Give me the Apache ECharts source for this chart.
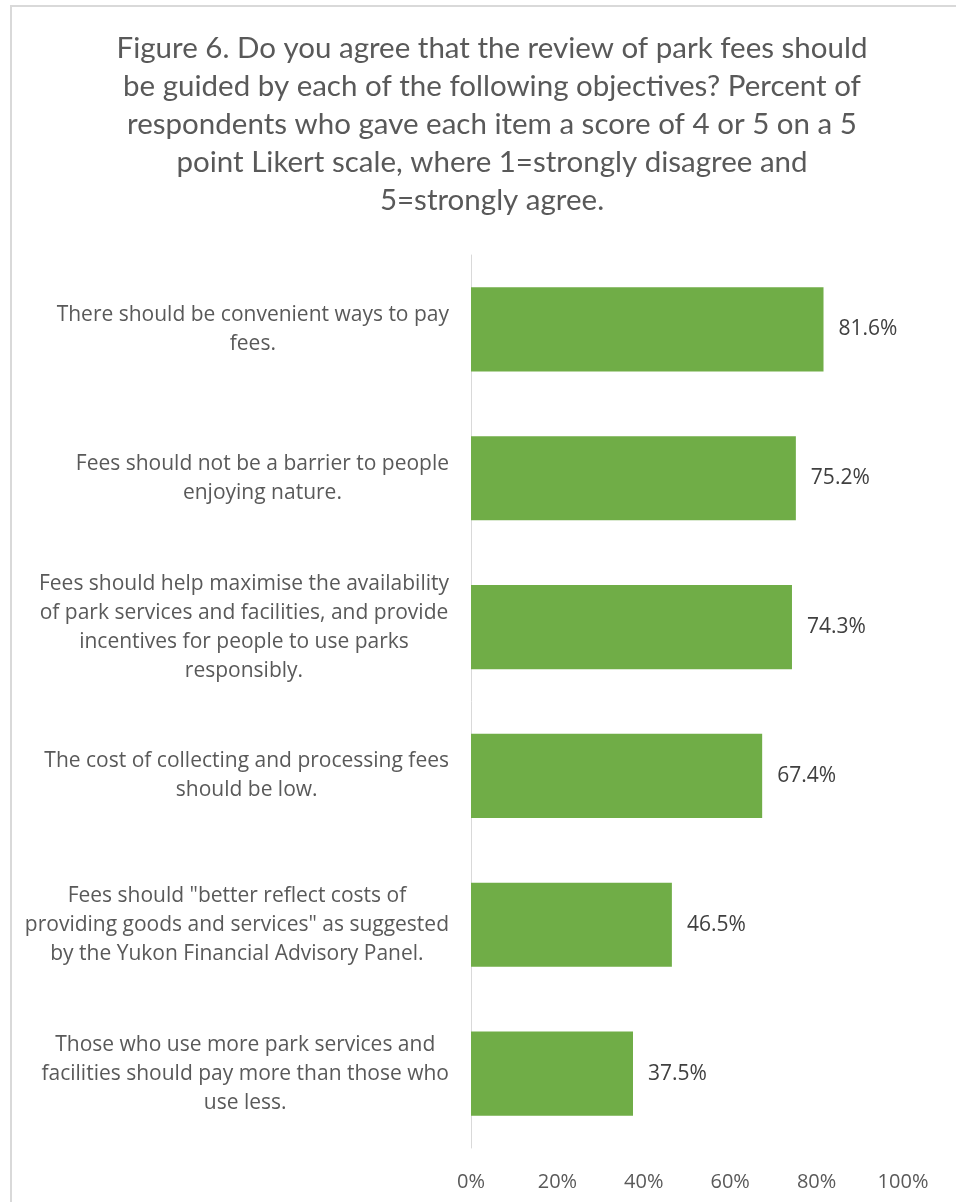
<!DOCTYPE html>
<html>
<head>
<meta charset="utf-8">
<style>
  html, body { margin: 0; padding: 0; background: #fff; }
  #chart { width: 956px; height: 1202px; }
</style>
<script src="https://cdn.jsdelivr.net/npm/echarts@6/dist/echarts.min.js"></script>
</head>
<body>
<div id="chart"></div>
<script>
// Survey objectives, listed top to bottom
const categories = [
  'There should be convenient ways to pay\nfees.',
  'Fees should not be a barrier to people\nenjoying nature.',
  'Fees should help maximise the availability\nof park services and facilities, and provide\nincentives for people to use parks\nresponsibly.',
  'The cost of collecting and processing fees\nshould be low.',
  'Fees should "better reflect costs of\nproviding goods and services" as suggested\nby the Yukon Financial Advisory Panel.',
  'Those who use more park services and\nfacilities should pay more than those who\nuse less.'
];

// Percent of respondents scoring 4 or 5
const agreePercent = [81.6, 75.2, 74.3, 67.4, 46.5, 37.5];

const titleText = 'Figure 6. Do you agree that the review of park fees should\n' +
  'be guided by each of the following objectives? Percent of\n' +
  'respondents who gave each item a score of 4 or 5 on a 5\n' +
  'point Likert scale, where 1=strongly disagree and\n' +
  '5=strongly agree.';

const chart = echarts.init(document.getElementById('chart'), null, { renderer: 'canvas' });

chart.setOption({
  backgroundColor: '#ffffff',
  animation: false,
  title: {
    text: titleText,
    left: 487,
    top: 24,
    textAlign: 'center',
    textStyle: {
      fontFamily: 'Lato',
      fontWeight: 'normal',
      fontSize: 29.5,
      lineHeight: 38,
      color: '#595959'
    }
  },
  graphic: [{
    type: 'rect',
    silent: true,
    shape: { x: 11, y: 6, width: 1000, height: 1300 },
    style: { fill: 'none', stroke: '#d9d9d9', lineWidth: 2 }
  }],
  grid: { left: 471, right: 53, top: 255, bottom: 54, containLabel: false },
  xAxis: {
    type: 'value',
    min: 0,
    max: 100,
    interval: 20,
    axisLine: { show: false },
    axisTick: { show: false },
    splitLine: { show: false },
    axisLabel: {
      formatter: '{value}%',
      margin: 24,
      fontFamily: 'Open Sans',
      fontSize: 20,
      color: '#595959'
    }
  },
  yAxis: {
    type: 'category',
    data: categories,
    inverse: true,
    axisLine: { show: true, lineStyle: { color: '#d9d9d9', width: 1 } },
    axisTick: { show: false },
    axisLabel: {
      margin: 22,
      align: 'right',
      fontFamily: 'Open Sans',
      fontSize: 21,
      lineHeight: 29,
      color: '#595959',
      formatter: function (v) {
        return v.split('\n').map(function (l) { return '{c|' + l + '}'; }).join('\n');
      },
      rich: {
        c: {
          align: 'center',
          fontFamily: 'Open Sans',
          fontSize: 21,
          lineHeight: 29,
          color: '#595959'
        }
      }
    }
  },
  series: [{
    type: 'bar',
    data: agreePercent,
    barCategoryGap: '43.5%',
    itemStyle: { color: '#70ad47' },
    label: {
      show: true,
      position: 'right',
      distance: 15,
      formatter: function (p) { return p.value.toFixed(1) + '%'; },
      fontFamily: 'Open Sans',
      fontSize: 21,
      color: '#404040'
    }
  }]
});
</script>
</body>
</html>
